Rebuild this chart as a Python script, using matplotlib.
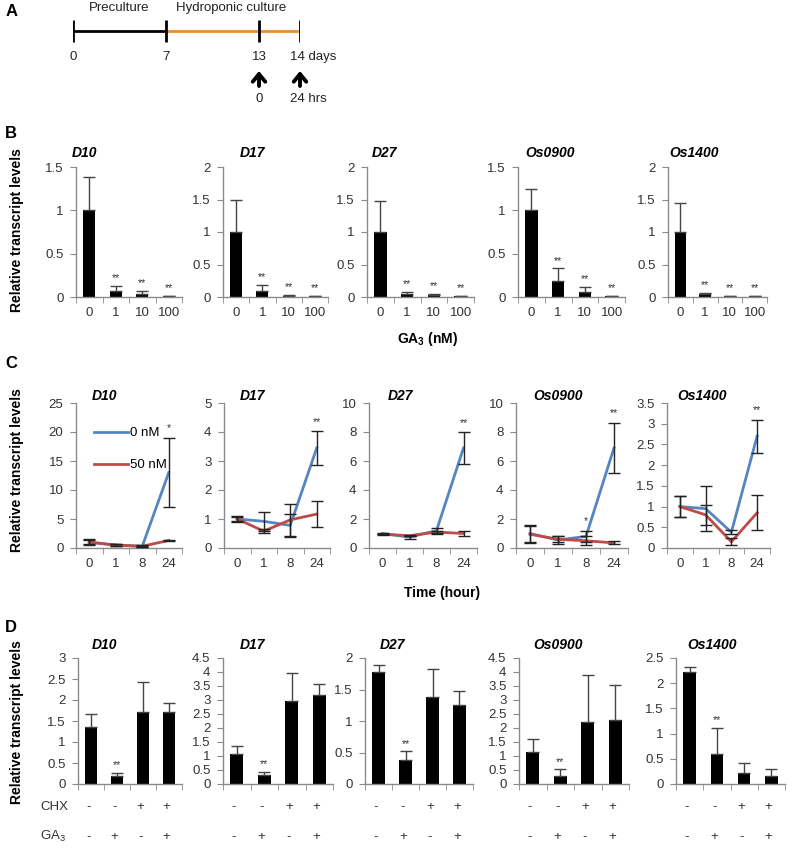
import matplotlib
matplotlib.use('Agg')
import matplotlib.pyplot as plt
import numpy as np
from matplotlib.transforms import blended_transform_factory

plt.rcParams['font.family'] = ['Liberation Sans', 'DejaVu Sans']
plt.rcParams['mathtext.fontset'] = 'custom'
plt.rcParams['mathtext.rm'] = 'Liberation Sans'
plt.rcParams['mathtext.bf'] = 'Liberation Sans:bold'
plt.rcParams['mathtext.it'] = 'Liberation Sans:italic'

W, H = 793, 852

# ---------------- data ----------------
genes = ['D10', 'D17', 'D27', 'Os0900', 'Os1400']

# Panel A timeline
timeline_days = [0, 7, 13, 14]
timeline_labels = ['0', '7', '13', '14 days']
timeline_px = [0, 93, 186, 227]          # schematic (not to scale) layout
sample_days = [13, 14]
sample_labels = ['0', '24 hrs']

# Panel B: GA3 dose
ga_conc = ['0', '1', '10', '100']
b_D10 = [1.0, 0.07, 0.04, 0.01]
b_D10_err = [0.39, 0.06, 0.03, 0.005]
b_D17 = [1.0, 0.09, 0.02, 0.01]
b_D17_err = [0.5, 0.10, 0.01, 0.005]
b_D27 = [1.0, 0.05, 0.03, 0.01]
b_D27_err = [0.48, 0.03, 0.015, 0.005]
b_Os0900 = [1.0, 0.18, 0.06, 0.01]
b_Os0900_err = [0.25, 0.15, 0.06, 0.005]
b_Os1400 = [1.0, 0.04, 0.01, 0.01]
b_Os1400_err = [0.45, 0.02, 0.005, 0.005]
b_ymax = [1.5, 2, 2, 1.5, 2]

# Panel C: time course
time_labels = ['0', '1', '8', '24']
c_D10_0 = [1.0, 0.5, 0.3, 13.0]
c_D10_0_err = [0.5, 0.2, 0.2, 6.0]
c_D10_50 = [1.0, 0.5, 0.3, 1.3]
c_D10_50_err = [0.3, 0.2, 0.1, 0.1]
c_D17_0 = [1.0, 0.92, 0.78, 3.45]
c_D17_0_err = [0.1, 0.33, 0.4, 0.58]
c_D17_50 = [1.0, 0.58, 0.97, 1.17]
c_D17_50_err = [0.08, 0.06, 0.55, 0.45]
c_D27_0 = [1.0, 0.75, 1.2, 6.9]
c_D27_0_err = [0.05, 0.1, 0.15, 1.1]
c_D27_50 = [0.95, 0.85, 1.1, 1.0]
c_D27_50_err = [0.05, 0.05, 0.1, 0.15]
c_Os0900_0 = [1.0, 0.55, 0.8, 6.9]
c_Os0900_0_err = [0.62, 0.3, 0.4, 1.75]
c_Os0900_50 = [0.95, 0.6, 0.5, 0.35]
c_Os0900_50_err = [0.6, 0.2, 0.3, 0.1]
c_Os1400_0 = [1.0, 0.95, 0.38, 2.7]
c_Os1400_0_err = [0.26, 0.55, 0.05, 0.4]
c_Os1400_50 = [1.0, 0.8, 0.15, 0.85]
c_Os1400_50_err = [0.26, 0.25, 0.08, 0.42]
c_ymax = [25, 5, 10, 10, 3.5]
c_ystep = [5, 1, 2, 2, 0.5]
c_stars = [{3: '*'}, {3: '**'}, {3: '**'}, {2: '*', 3: '**'}, {3: '**'}]

# Panel D: CHX treatment
chx_signs = ['-', '-', '+', '+']
ga_signs = ['-', '+', '-', '+']
d_D10 = [1.36, 0.19, 1.72, 1.72]
d_D10_err = [0.31, 0.07, 0.71, 0.22]
d_D17 = [1.07, 0.32, 2.95, 3.18]
d_D17_err = [0.29, 0.11, 1.0, 0.40]
d_D27 = [1.77, 0.38, 1.38, 1.25]
d_D27_err = [0.12, 0.14, 0.45, 0.23]
d_Os0900 = [1.14, 0.28, 2.22, 2.30]
d_Os0900_err = [0.46, 0.25, 1.66, 1.25]
d_Os1400 = [2.23, 0.6, 0.21, 0.16]
d_Os1400_err = [0.09, 0.51, 0.2, 0.13]
d_ymax = [3, 4.5, 2, 4.5, 2.5]

BLUE = '#5585C2'
RED = '#BE4B48'
SPINE = '#8a8a8a'

fig = plt.figure(figsize=(W / 100, H / 100), dpi=100)


def add_ax(left, top, w, h):
    return fig.add_axes([left / W, 1 - (top + h) / H, w / W, h / H])


def ftext(x, y, s, **kw):
    kw.setdefault('ha', 'center')
    kw.setdefault('va', 'center')
    return fig.text(x / W, 1 - y / H, s, **kw)


def style_ax(ax, ymax, step, ncat=4):
    for s in ['top', 'right']:
        ax.spines[s].set_visible(False)
    for s in ['left', 'bottom']:
        ax.spines[s].set_color(SPINE)
        ax.spines[s].set_linewidth(1.0)
    ax.set_xlim(-0.5, ncat - 0.5)
    ax.set_ylim(0, ymax)
    ticks = np.arange(0, ymax + step / 2, step)
    ax.set_yticks(ticks)
    ax.set_yticklabels([('%g' % t) for t in ticks])
    ax.set_xticks(np.arange(ncat))
    ax.set_xticks(np.arange(ncat + 1) - 0.5, minor=True)
    ax.tick_params(axis='x', which='major', length=0, pad=7, labelsize=9.5, colors='#333333')
    ax.tick_params(axis='x', which='minor', length=4, color=SPINE, direction='out')
    ax.tick_params(axis='y', which='major', length=4, color=SPINE, direction='out', pad=5,
                   labelsize=9.5, labelcolor='#333333')
    ax.patch.set_alpha(0)


# ---------------- Panel A ----------------
fwd = lambda d: np.interp(d, timeline_days, timeline_px)
inv = lambda p: np.interp(p, timeline_px, timeline_days)
axA = add_ax(73, 0, 227, 110)
axA.set_xscale('function', functions=(fwd, inv))
axA.set_xlim(0, 14)
axA.set_ylim(110, 0)
axA.axis('off')
axA.plot([timeline_days[0], timeline_days[1]], [31, 31], color='black', lw=2, solid_capstyle='butt')
axA.plot([timeline_days[1], timeline_days[3]], [31, 31], color='#E8902E', lw=2, solid_capstyle='butt')
for d, lab in zip(timeline_days, timeline_labels):
    axA.plot([d, d], [20, 42], color='black', lw=2, solid_capstyle='butt')
    if lab.endswith('days'):
        axA.annotate(lab, xy=(d, 57), xytext=(-10, 0), textcoords='offset pixels',
                     ha='left', va='center', fontsize=9.5, color='#222222')
    else:
        axA.text(d, 57, lab, ha='center', va='center', fontsize=9.5, color='#222222')
axA.text(3.5, 8, 'Preculture', ha='center', va='center', fontsize=9.5, color='#222222')
axA.text(11.2, 8, 'Hydroponic culture', ha='center', va='center', fontsize=9.5, color='#222222')
for d, lab in zip(sample_days, sample_labels):
    axA.annotate('', xy=(d, 71), xytext=(d, 86),
                 arrowprops=dict(arrowstyle='->,head_length=0.55,head_width=0.45', lw=2.8,
                                 color='black', shrinkA=0, shrinkB=0))
    if lab == '0':
        axA.text(d, 99, lab, ha='center', va='center', fontsize=9.5, color='#222222')
    else:
        axA.annotate(lab, xy=(d, 99), xytext=(-10, 0), textcoords='offset pixels',
                     ha='left', va='center', fontsize=9.5, color='#222222')

ftext(12, 11, 'A', fontsize=12, fontweight='bold')

# ---------------- Panel B ----------------
ftext(11, 133, 'B', fontsize=12, fontweight='bold')
b_vals = [b_D10, b_D17, b_D27, b_Os0900, b_Os1400]
b_errs = [b_D10_err, b_D17_err, b_D27_err, b_Os0900_err, b_Os1400_err]
b_left = [76, 223, 367, 518, 668]
b_w = [106, 105, 107, 107, 99]
b_title_x = [85, 252, 384, 550, 694]
for i, g in enumerate(genes):
    ax = add_ax(b_left[i], 167, b_w[i], 130)
    x = np.arange(len(ga_conc))
    ax.bar(x, b_vals[i], width=0.46, color='black',
           yerr=[np.zeros(4), b_errs[i]], capsize=4.5,
           error_kw=dict(ecolor='#444444', elinewidth=1, capthick=1))
    style_ax(ax, b_ymax[i], 0.5)
    ax.set_xticklabels(ga_conc)
    for j in range(1, 4):
        ax.text(j, b_vals[i][j] + b_errs[i][j] + b_ymax[i] * 0.02, '**', ha='center',
                va='bottom', fontsize=7.5, color='#333333')
    ftext(b_title_x[i], 153, g, fontsize=10, fontweight='bold', fontstyle='italic')
ftext(17, 230, 'Relative transcript levels', rotation=90, fontsize=10, fontweight='bold')
ftext(428, 339, r'GA$_{\mathbf{3}}$ (nM)', fontsize=10, fontweight='bold')

# ---------------- Panel C ----------------
ftext(11, 364, 'C', fontsize=12, fontweight='bold')
c0 = [c_D10_0, c_D17_0, c_D27_0, c_Os0900_0, c_Os1400_0]
c0e = [c_D10_0_err, c_D17_0_err, c_D27_0_err, c_Os0900_0_err, c_Os1400_0_err]
c50 = [c_D10_50, c_D17_50, c_D27_50, c_Os0900_50, c_Os1400_50]
c50e = [c_D10_50_err, c_D17_50_err, c_D27_50_err, c_Os0900_50_err, c_Os1400_50_err]
c_left = [76, 224, 369, 516, 667]
c_w = [106, 106, 108, 112, 103]
c_title_x = [104, 252, 400, 558, 702]
for i, g in enumerate(genes):
    ax = add_ax(c_left[i], 403, c_w[i], 145)
    x = np.arange(len(time_labels))
    l0, = ax.plot(x, c0[i], color=BLUE, lw=2, label='0 nM', zorder=3)
    l50, = ax.plot(x, c50[i], color=RED, lw=2, label='50 nM', zorder=3)
    ax.errorbar(x, c0[i], yerr=c0e[i], fmt='none', ecolor='#222222', elinewidth=1,
                capsize=4, capthick=1, zorder=4)
    ax.errorbar(x, c50[i], yerr=c50e[i], fmt='none', ecolor='#222222', elinewidth=1,
                capsize=4, capthick=1, zorder=4)
    style_ax(ax, c_ymax[i], c_ystep[i])
    ax.set_xticklabels(time_labels)
    for j, s in c_stars[i].items():
        ax.text(j, c0[i][j] + c0e[i][j] + c_ymax[i] * 0.03, s, ha='center', va='bottom',
                fontsize=7.5, color='#333333')
    if i == 0:
        ax.legend(handles=[l0, l50], loc='upper left', bbox_to_anchor=(0.12, 0.87),
                  frameon=False, handlelength=2.6, handletextpad=0.1, labelspacing=1.5,
                  fontsize=9.5, borderaxespad=0)
    ftext(c_title_x[i], 396, g, fontsize=10, fontweight='bold', fontstyle='italic')
ftext(17, 470, 'Relative transcript levels', rotation=90, fontsize=10, fontweight='bold')
ftext(442, 593, 'Time (hour)', fontsize=10, fontweight='bold')

# ---------------- Panel D ----------------
ftext(11, 627, 'D', fontsize=12, fontweight='bold')
d_vals = [d_D10, d_D17, d_D27, d_Os0900, d_Os1400]
d_errs = [d_D10_err, d_D17_err, d_D27_err, d_Os0900_err, d_Os1400_err]
d_left = [78, 223, 365, 519, 676]
d_w = [104, 110, 108, 110, 109]
d_title_x = [104, 253, 393, 558, 712]
for i, g in enumerate(genes):
    ax = add_ax(d_left[i], 658, d_w[i], 126)
    x = np.arange(len(chx_signs))
    ax.bar(x, d_vals[i], width=0.46, color='black',
           yerr=[np.zeros(4), d_errs[i]], capsize=4.5,
           error_kw=dict(ecolor='#444444', elinewidth=1, capthick=1))
    style_ax(ax, d_ymax[i], 0.5)
    ax.set_xticklabels([])
    ax.text(1, d_vals[i][1] + d_errs[i][1] + d_ymax[i] * 0.02, '**', ha='center', va='bottom',
            fontsize=7.5, color='#333333')
    tr = blended_transform_factory(ax.transData, fig.transFigure)
    for j in range(4):
        ax.text(j - 0.1, 1 - 807 / H, chx_signs[j], transform=tr, ha='center', va='center',
                fontsize=9.5, color='#333333')
        ax.text(j - 0.1, 1 - 837 / H, ga_signs[j], transform=tr, ha='center', va='center',
                fontsize=9.5, color='#333333')
    ftext(d_title_x[i], 645, g, fontsize=10, fontweight='bold', fontstyle='italic')
ftext(17, 722, 'Relative transcript levels', rotation=90, fontsize=10, fontweight='bold')
ftext(40, 807, 'CHX', fontsize=9.5, ha='left', color='#333333')
ftext(40, 836, r'GA$_3$', fontsize=9.5, ha='left', color='#333333')

fig.savefig('out.png', dpi=100)
